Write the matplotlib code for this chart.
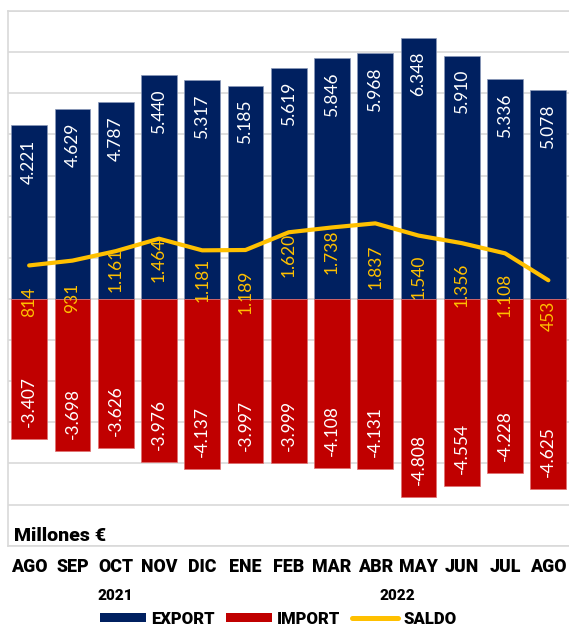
import matplotlib
matplotlib.use("Agg")
import matplotlib.pyplot as plt
from matplotlib.patches import Patch
from matplotlib.lines import Line2D
import matplotlib.transforms as mtransforms

# ---------------- data ----------------
months = ["AGO", "SEP", "OCT", "NOV", "DIC", "ENE", "FEB", "MAR", "ABR", "MAY", "JUN", "JUL", "AGO"]
export = [4221, 4629, 4787, 5440, 5317, 5185, 5619, 5846, 5968, 6348, 5910, 5336, 5078]
imports = [-3407, -3698, -3626, -3976, -4137, -3997, -3999, -4108, -4131, -4808, -4554, -4228, -4625]
saldo = [814, 931, 1161, 1464, 1181, 1189, 1620, 1738, 1837, 1540, 1356, 1108, 453]
years = ["2021", "2022"]

# ---------------- style ----------------
C_EXP = "#002060"
C_IMP = "#C00000"
C_SAL = "#FFC000"
C_GRID = "#D9D9D9"
FONT = ["Lato", "DejaVu Sans"]
BOLDFONT = ["Roboto", "Lato", "DejaVu Sans"]
HEAVY = "black"
# label offsets (px below the line point) for saldo labels
saldo_label_dy = [21, 22, -3, -1, 7, 20, 1, 2, 21, 19, 19, 19, 20]
year_pos = [2, 8.5]

plt.rcParams["font.family"] = FONT

def fmt(v):
    s = f"{abs(v):,}".replace(",", ".")
    return ("-" + s) if v < 0 else s

W, H = 569, 625
fig = plt.figure(figsize=(W / 100, H / 100), dpi=100)
ax_l, ax_r = 7.5, 570.0
ax_t, ax_b = 11.0, 545.7
ax = fig.add_axes([ax_l / W, 1 - ax_b / H, (ax_r - ax_l) / W, (ax_b - ax_t) / H])

x = list(range(len(months)))
bw = 0.826
ax.bar(x, export, width=bw, color=C_EXP, edgecolor="#8a98b8", linewidth=0.5, zorder=2)
ax.bar(x, imports, width=bw, color=C_IMP, edgecolor="#e07070", linewidth=0.5, zorder=2)
ax.plot(x, saldo, color=C_SAL, lw=3, solid_capstyle="round", solid_joinstyle="round", zorder=5)

ax.set_xlim(-0.5, 12.5)
ax.set_ylim(-6000, 7000)
ax.set_yticks(range(-6000, 7001, 1000))
ax.yaxis.grid(True, color=C_GRID, lw=1.2, zorder=0)
ax.set_axisbelow(True)
ax.tick_params(axis="y", left=False, labelleft=False)
ax.tick_params(axis="x", length=0, pad=8.5)
ax.set_xticks(x)
ax.set_xticklabels(months, fontsize=12.8, fontweight=HEAVY, color="black", family=BOLDFONT)
for side in ["left", "top", "bottom"]:
    ax.spines[side].set_color(C_GRID)
    ax.spines[side].set_linewidth(1.2)
ax.spines["right"].set_visible(False)

px = 0.72  # points per pixel
for i, v in enumerate(export):
    ax.annotate(fmt(v), (i, v), xytext=(0, -14 * px), textcoords="offset points",
                rotation=90, ha="center", va="top", color="white", fontsize=12.5, zorder=3)
for i, v in enumerate(imports):
    ax.annotate(fmt(v), (i, v), xytext=(0, 12 * px), textcoords="offset points",
                rotation=90, ha="center", va="bottom", color="white", fontsize=12.5, zorder=3)
for i, v in enumerate(saldo):
    ax.annotate(fmt(v), (i, v), xytext=(0, -saldo_label_dy[i] * px), textcoords="offset points",
                rotation=90, ha="center", va="top", color=C_SAL, fontsize=12.5, zorder=3)

ax.text(0.0116, 0.018, "Millones €", transform=ax.transAxes, fontsize=14,
        fontweight=HEAVY, family=BOLDFONT, ha="left", va="center", color="black")

trans = mtransforms.blended_transform_factory(ax.transData, fig.transFigure)
for xp, yr in zip(year_pos, years):
    ax.text(xp, 1 - 596 / H, yr, transform=trans, fontsize=11, fontweight=HEAVY,
            family=BOLDFONT, ha="center", va="center", color="black")

handles = [Patch(facecolor=C_EXP), Patch(facecolor=C_IMP),
           Line2D([0], [0], color=C_SAL, lw=3.6, solid_capstyle="round")]
leg = fig.legend(handles, ["EXPORT", "IMPORT", "SALDO"], loc="center",
                 bbox_to_anchor=(278.4 / W, 1 - 618.5 / H), ncol=3, frameon=False,
                 prop={"weight": HEAVY, "size": 12, "family": BOLDFONT},
                 handlelength=2.75, handleheight=0.5,
                 handletextpad=0.3, columnspacing=0.7, borderpad=0, borderaxespad=0)

fig.savefig("out.png", dpi=100)
